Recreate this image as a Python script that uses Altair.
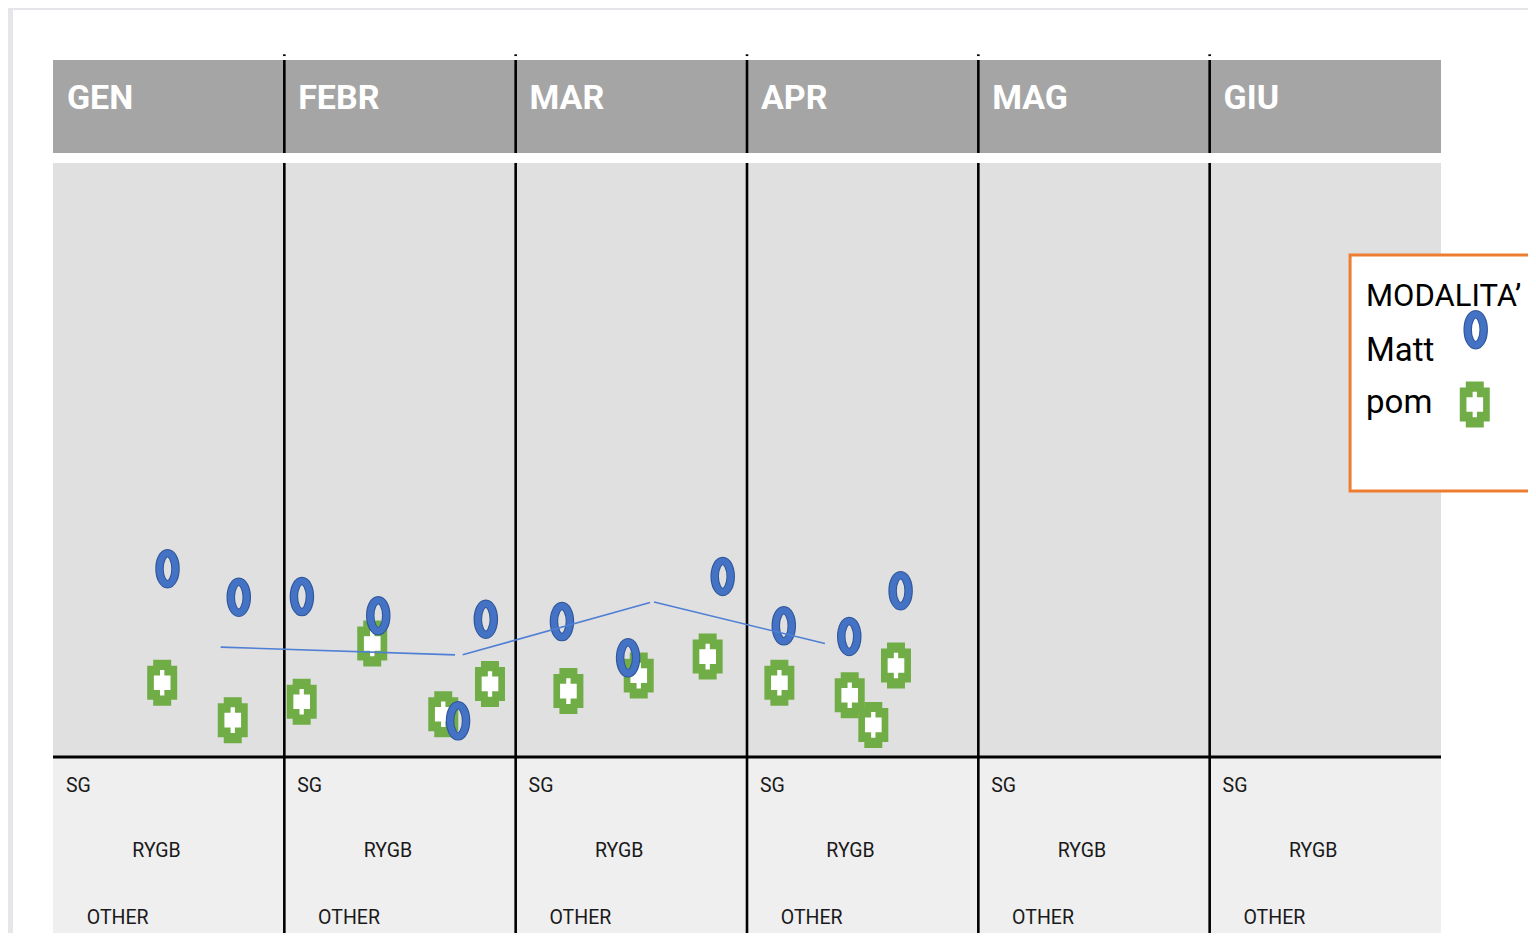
import altair as alt
import pandas as pd

# ---------------- data ----------------
months = ["GEN", "FEBR", "MAR", "APR", "MAG", "GIU"]
row_labels = ["SG", "RYGB", "OTHER"]

# x = position in months (0 = start of GEN), y = value
matt_x = [0.495, 0.803, 1.076, 1.406, 1.751, 1.871, 2.200, 2.486, 2.895, 3.159, 3.442, 3.664]
matt_y = [31.7, 26.9, 27.0, 23.8, 6.1, 23.2, 22.8, 16.7, 30.4, 22.1, 20.3, 28.0]
pom_x = [0.472, 0.777, 1.075, 1.380, 1.687, 1.889, 2.228, 2.532, 2.830, 3.140, 3.444, 3.546, 3.644]
pom_y = [12.5, 6.2, 9.3, 19.1, 7.2, 12.3, 11.1, 13.7, 16.9, 12.5, 10.4, 5.4, 15.4]
trend_x = [0.725, 1.738, 1.771, 2.581, 2.598, 3.337]
trend_y = [18.5, 17.2, 17.2, 26.0, 26.1, 19.1]
trend_seg = [1, 1, 2, 2, 3, 3]

legend_title = "MODALITA\u2019"
legend_labels = ["Matt", "pom"]

# ---------------- layout / style ----------------
X = alt.Scale(domain=[0, 6], range=[45, 1433], nice=False, zero=False)
Y = alt.Scale(domain=[0, 100], range=[749, 155], nice=False, zero=False)

FONT = "Roboto, 'Liberation Sans', sans-serif"
BLUE = "#4472c4"
BLUE_DARK = "#2f5597"
GREEN = "#70ad47"
ORANGE = "#ed7d31"

k = 0.5523
rx = 0.516
O_PATH = (f"M0,-1 C{k*rx:.3f},-1 {rx},{-k:.3f} {rx},0 C{rx},{k:.3f} {k*rx:.3f},1 0,1 "
          f"C{-k*rx:.3f},1 {-rx},{k:.3f} {-rx},0 C{-rx},{-k:.3f} {-k*rx:.3f},-1 0,-1 Z")
G_PATH = ("M-0.391,-1 L0.391,-1 L0.391,-0.739 L0.652,-0.739 L0.652,0.739 L0.391,0.739 "
          "L0.391,1 L-0.391,1 L-0.391,0.739 L-0.652,0.739 L-0.652,-0.739 L-0.391,-0.739 Z")
W_PATH = ("M-0.094,-0.557 L0.094,-0.557 L0.094,-0.318 L0.362,-0.318 L0.362,0.318 L0.094,0.318 "
          "L0.094,0.557 L-0.094,0.557 L-0.094,0.318 L-0.362,0.318 L-0.362,-0.318 L-0.094,-0.318 Z")


def ex(f="x"):
    return alt.X(f, type="quantitative", scale=X, axis=None)


def ey(f="y"):
    return alt.Y(f, type="quantitative", scale=Y, axis=None)


layers = []

# white card
card = pd.DataFrame({"x": [-0.173], "x2": [7.0], "y": [125.76], "y2": [-60.0]})
layers.append(alt.Chart(card).mark_rect(fill="white").encode(x=ex(), x2="x2", y=ey(), y2="y2"))

# header, plot area, bottom panel
mdf = pd.DataFrame({"m": months, "x": list(range(6)), "x2": [i + 1 for i in range(6)]})
layers.append(alt.Chart(mdf).mark_rect(fill="#a5a5a5").encode(
    x=ex(), x2="x2", y=alt.Y(datum=117.34, scale=Y, axis=None), y2=alt.Y2(datum=101.68)))
layers.append(alt.Chart(mdf).mark_rect(fill="#e0e0e0").encode(
    x=ex(), x2="x2", y=alt.Y(datum=100, scale=Y, axis=None), y2=alt.Y2(datum=0)))
layers.append(alt.Chart(mdf).mark_rect(fill="#efefef").encode(
    x=ex(), x2="x2", y=alt.Y(datum=0, scale=Y, axis=None), y2=alt.Y2(datum=-60)))

# dividers
div = pd.DataFrame({"x": [1, 2, 3, 4, 5]})
layers.append(alt.Chart(div).mark_rule(color="black", strokeWidth=2.6).encode(
    x=ex(), y=alt.Y(datum=117.34, scale=Y, axis=None), y2=alt.Y2(datum=101.68)))
layers.append(alt.Chart(div).mark_rule(color="black", strokeWidth=2.6).encode(
    x=ex(), y=alt.Y(datum=118.3, scale=Y, axis=None), y2=alt.Y2(datum=118.0)))
layers.append(alt.Chart(div).mark_rule(color="black", strokeWidth=2.6).encode(
    x=ex(), y=alt.Y(datum=100, scale=Y, axis=None), y2=alt.Y2(datum=-60)))
layers.append(alt.Chart(mdf.iloc[:1]).mark_rule(color="black", strokeWidth=3).encode(
    x=alt.X(datum=0, scale=X, axis=None), x2=alt.X2(datum=6), y=alt.Y(datum=0, scale=Y, axis=None)))

# month labels
mlab = pd.DataFrame({"m": months, "x": [i + 0.060 for i in range(6)], "y": [109.1] * 6})
layers.append(alt.Chart(mlab).mark_text(
    align="left", baseline="alphabetic", font=FONT, fontSize=34, fontWeight="bold",
    color="white").encode(x=ex(), y=ey(), text="m"))

# bottom row labels
offs_x = {"SG": 0.056, "RYGB": 0.343, "OTHER": 0.146}
offs_y = {"SG": -5.84, "RYGB": -16.89, "OTHER": -28.1}
rows = []
for i in range(6):
    for r in row_labels:
        rows.append({"t": r, "x": i + offs_x[r], "y": offs_y[r]})
layers.append(alt.Chart(pd.DataFrame(rows)).mark_text(
    align="left", baseline="alphabetic", font=FONT, fontSize=19.5,
    color="#1a1a1a").encode(x=ex(), y=ey(), text="t"))

# data points
pom = pd.DataFrame({"x": pom_x, "y": pom_y})
matt = pd.DataFrame({"x": matt_x, "y": matt_y})
trend = pd.DataFrame({"x": trend_x, "y": trend_y, "s": trend_seg})

layers.append(alt.Chart(pom).mark_point(shape=G_PATH, filled=True, color=GREEN, size=2116,
                                        opacity=1, strokeWidth=0).encode(x=ex(), y=ey()))
layers.append(alt.Chart(pom).mark_point(shape=W_PATH, filled=True, color="white", size=2116,
                                        opacity=1, strokeWidth=0).encode(x=ex(), y=ey()))
layers.append(alt.Chart(matt).mark_point(shape=O_PATH, filled=False, color=BLUE_DARK, size=961,
                                         opacity=1, strokeWidth=8.5).encode(x=ex(), y=ey()))
layers.append(alt.Chart(matt).mark_point(shape=O_PATH, filled=False, color=BLUE, size=961,
                                         opacity=1, strokeWidth=6.5).encode(x=ex(), y=ey()))
layers.append(alt.Chart(trend).mark_line(color="#4f7fd4", strokeWidth=1.6).encode(
    x=ex(), y=ey(), detail="s:N"))

# legend box
lbox = pd.DataFrame({"x": [5.607], "x2": [6.7], "y": [84.5], "y2": [44.8]})
layers.append(alt.Chart(lbox).mark_rect(fill="white", stroke=ORANGE, strokeWidth=3).encode(
    x=ex(), x2="x2", y=ey(), y2="y2"))
ltext = pd.DataFrame({"t": [legend_title] + legend_labels, "x": [5.676] * 3,
                      "y": [75.93, 66.67, 57.91], "fs": [31, 33, 33]})
layers.append(alt.Chart(ltext).mark_text(
    align="left", baseline="alphabetic", font=FONT,
    color="black").encode(x=ex(), y=ey(), text="t",
                          size=alt.Size("fs:Q", scale=None, legend=None)))
lsym_m = pd.DataFrame({"x": [6.150], "y": [71.94]})
lsym_p = pd.DataFrame({"x": [6.146], "y": [59.34]})
layers.append(alt.Chart(lsym_p).mark_point(shape=G_PATH, filled=True, color=GREEN, size=2116,
                                           opacity=1, strokeWidth=0).encode(x=ex(), y=ey()))
layers.append(alt.Chart(lsym_p).mark_point(shape=W_PATH, filled=True, color="white", size=2116,
                                           opacity=1, strokeWidth=0).encode(x=ex(), y=ey()))
layers.append(alt.Chart(lsym_m).mark_point(shape=O_PATH, filled=False, color=BLUE_DARK, size=961,
                                           opacity=1, strokeWidth=8.5).encode(x=ex(), y=ey()))
layers.append(alt.Chart(lsym_m).mark_point(shape=O_PATH, filled=False, color=BLUE, size=961,
                                           opacity=1, strokeWidth=6.5).encode(x=ex(), y=ey()))

chart = alt.layer(*layers).properties(
    width=1520, height=925, padding=0,
    autosize=alt.AutoSizeParams(type="none"),
    background="#e4e6ea",
).configure_view(stroke="transparent")

chart.save("out.html", embed_options={"renderer": "svg", "actions": False})
